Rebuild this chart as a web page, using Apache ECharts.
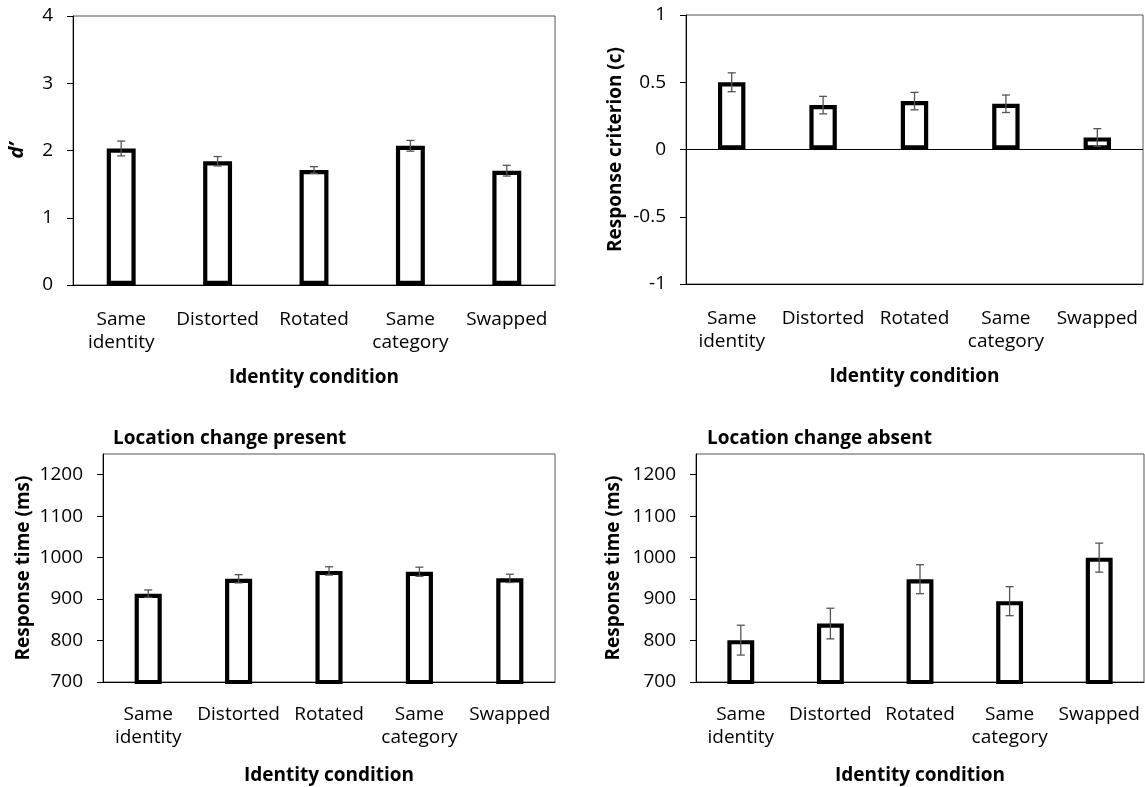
<!DOCTYPE html>
<html>
<head>
<meta charset="utf-8">
<script src="https://cdn.jsdelivr.net/npm/echarts@6/dist/echarts.min.js"></script>
<style>
html,body{margin:0;padding:0;background:#fff;}
#chart{width:1145px;height:787px;}
</style>
</head>
<body>
<div id="chart"></div>
<script>
const categories = ['Same\nidentity', 'Distorted', 'Rotated', 'Same\ncategory', 'Swapped'];
const dPrime = [2.03, 1.84, 1.71, 2.07, 1.70];
const dPrimeErr = [0.11, 0.07, 0.05, 0.08, 0.08];
const criterion = [0.50, 0.33, 0.36, 0.34, 0.09];
const criterionErr = [0.07, 0.065, 0.065, 0.065, 0.065];
const rtPresent = [913, 949, 968, 966, 950];
const rtPresentErr = [9, 10, 10, 11, 10];
const rtAbsent = [801, 841, 948, 895, 1000];
const rtAbsentErr = [36, 37, 35, 35, 35];

const FONT = 'Open Sans';
const chart = echarts.init(document.getElementById('chart'), null, {renderer: 'canvas'});

const grids = [
  {left: 73, top: 16, width: 482, height: 269},
  {left: 686, top: 15, width: 457, height: 269},
  {left: 103, top: 454, width: 452, height: 228},
  {left: 696, top: 454, width: 448, height: 228}
].map(g => Object.assign({show: true, borderColor: '#555', borderWidth: 1, backgroundColor: '#fff', containLabel: false, outerBoundsMode: 'none'}, g));

function xAx(i) {
  return {
    type: 'category', gridIndex: i, data: categories,
    axisLine: {onZero: false, lineStyle: {color: '#000', width: 1}},
    axisTick: {show: false},
    axisLabel: {color: '#000', fontFamily: FONT, fontSize: 19, lineHeight: 23, margin: i < 2 ? 23 : 21, interval: 0},
    name: 'Identity condition', nameLocation: 'middle', nameGap: i < 2 ? 83 : 84,
    nameTextStyle: {color: '#000', fontFamily: FONT, fontSize: 19, fontWeight: 'bold'}
  };
}
function yAx(i, min, max, interval, name, nameGap, extra) {
  return Object.assign({
    type: 'value', gridIndex: i, min: min, max: max, interval: interval,
    axisLine: {show: true, lineStyle: {color: '#000', width: 1}},
    axisTick: {show: true, inside: false, length: 6, lineStyle: {color: '#000'}},
    splitLine: {show: false},
    axisLabel: {color: '#000', fontFamily: FONT, fontSize: 19, margin: 20, showMaxLabel: max % interval === 0 ? true : false,
      formatter: v => (Math.abs(v - max) < 1e-9 && max % interval !== 0) ? '' : String(v)},
    name: name, nameLocation: 'middle', nameGap: nameGap,
    nameTextStyle: {color: '#000', fontFamily: FONT, fontSize: 19, fontWeight: 'bold'}
  }, extra || {});
}

function barSeries(i, data, withZero) {
  const s = {
    type: 'bar', xAxisIndex: i, yAxisIndex: i, data: data, barWidth: '30%',
    itemStyle: {color: '#fff', borderColor: '#000', borderWidth: 4.2},
    silent: true, z: 2
  };
  if (withZero) {
    s.markLine = {silent: true, symbol: 'none', label: {show: false},
      lineStyle: {color: '#000', width: 1, type: 'solid'}, data: [{yAxis: 0}]};
  }
  return s;
}
function errSeries(i, vals, errs) {
  return {
    type: 'custom', xAxisIndex: i, yAxisIndex: i, z: 5, silent: true,
    data: vals.map((v, k) => [k, v + errs[k], v - errs[k]]),
    encode: {x: 0, y: [1, 2]},
    renderItem: function (params, api) {
      const x = api.value(0);
      const hi = api.coord([x, api.value(1)]);
      const lo = api.coord([x, api.value(2)]);
      const cw = 4;
      const st = {stroke: '#555', lineWidth: 1.3};
      return {type: 'group', children: [
        {type: 'line', shape: {x1: hi[0], y1: hi[1], x2: lo[0], y2: lo[1]}, style: st},
        {type: 'line', shape: {x1: hi[0] - cw, y1: hi[1], x2: hi[0] + cw, y2: hi[1]}, style: st},
        {type: 'line', shape: {x1: lo[0] - cw, y1: lo[1], x2: lo[0] + cw, y2: lo[1]}, style: st}
      ]};
    }
  };
}

const option = {
  animation: false,
  backgroundColor: '#fff',
  title: [
    {text: 'Location change present', left: 108, top: 424, textStyle: {color: '#000', fontFamily: FONT, fontSize: 19, fontWeight: 'bold'}},
    {text: 'Location change absent', left: 702, top: 424, textStyle: {color: '#000', fontFamily: FONT, fontSize: 19, fontWeight: 'bold'}}
  ],
  grid: grids,
  xAxis: [xAx(0), xAx(1), xAx(2), xAx(3)],
  yAxis: [
    yAx(0, 0, 4, 1, 'd\u2019', 46, {nameTextStyle: {color: '#000', fontFamily: FONT, fontSize: 20, fontWeight: 'bold', fontStyle: 'italic'}}),
    yAx(1, -1, 1, 0.5, 'Response criterion (c)', 61),
    yAx(2, 700, 1250, 100, 'Response time (ms)', 70),
    yAx(3, 700, 1250, 100, 'Response time (ms)', 73)
  ],
  series: [
    barSeries(0, dPrime, false), errSeries(0, dPrime, dPrimeErr),
    barSeries(1, criterion, true), errSeries(1, criterion, criterionErr),
    barSeries(2, rtPresent, false), errSeries(2, rtPresent, rtPresentErr),
    barSeries(3, rtAbsent, false), errSeries(3, rtAbsent, rtAbsentErr)
  ]
};
chart.setOption(option);
</script>
</body>
</html>
